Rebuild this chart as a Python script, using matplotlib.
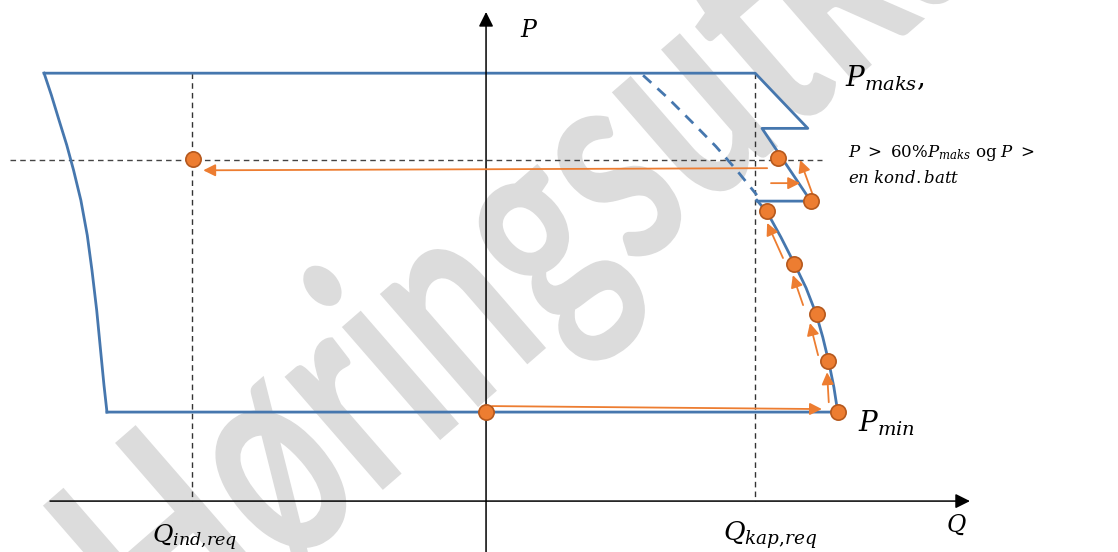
import matplotlib
matplotlib.use("Agg")
import matplotlib.pyplot as plt
from matplotlib.patheffects import AbstractPathEffect
from matplotlib.transforms import Affine2D

plt.rcParams['mathtext.fontset'] = 'dejavuserif'
plt.rcParams['font.family'] = ['DejaVu Serif']

# P-Q diagram, units: P in % of P_maks, Q in same scale
# outer boundary (left side curve, top, right steps, right curve, bottom)
left_q = [-103.3, -101.6, -99.8, -98.0, -96.4, -94.7, -93.2, -92.1, -91.0, -90.1, -89.3, -88.6]
left_p = [100, 94.9, 89.0, 83.2, 77.3, 70.3, 62.1, 53.9, 44.6, 35.3, 27.1, 20.8]

step_q = [-103.3, 62.9, 75.2, 64.5, 75.9, 63.3]
step_p = [100, 100, 87.1, 87.1, 70.1, 70.1]

right_q = [63.3, 65.7, 68.9, 72.0, 74.8, 77.1, 78.7, 80.1, 81.3, 82.2, -88.6]
right_p = [70.3, 67.5, 61.7, 55.6, 49.8, 43.9, 38.3, 32.5, 26.6, 20.8, 20.8]

# dashed continuation of the capability arc
arc_q = [36.7, 42.5, 48.4, 53.7, 58.6, 63.3]
arc_p = [99.5, 94.2, 88.3, 82.9, 77.3, 71.5]

q_ind_req = -68.7
q_kap_req = 62.9
p_maks = 100
p_level = 79.7
p_level_span = (-111.2, 78.5)

# operating points
pts_q = [-68.5, 0, 68.2, 75.9, 65.7, 72.0, 77.3, 79.9, 82.2]
pts_p = [79.9, 20.8, 80.1, 70.1, 67.8, 55.4, 43.7, 32.7, 20.8]

# orange arrows: (tail_q, tail_p, head_q, head_p)
arrows = [
    (65.7, 77.8, -66.1, 77.3),
    (1.4, 22.2, 78.5, 21.5),
    (80.1, 23.1, 79.7, 30.1),
    (77.6, 34.1, 75.7, 41.6),
    (74.1, 45.8, 71.7, 52.8),
    (69.4, 56.8, 65.7, 65.0),
    (66.6, 74.3, 73.4, 74.3),
    (76.2, 72.0, 73.4, 79.7),
]

blue = '#4677ae'
orange = '#ed7d31'


class Stretch(AbstractPathEffect):
    # stretch glyphs vertically (in the text's own frame), like a word-art watermark
    def __init__(self, sy):
        super().__init__()
        self.sy = sy

    def draw_path(self, renderer, gc, tpath, affine, rgbFace=None):
        renderer.draw_path(gc, tpath, Affine2D().scale(1, self.sy) + affine, rgbFace)


fig = plt.figure(figsize=(11.18, 5.52), dpi=100)
ax = fig.add_axes([0, 0, 1, 1])
ax.set_xlim(-113.6, 147.7)
ax.set_ylim(-11.9, 117.1)
ax.axis('off')

# watermark (behind everything)
ax.text(0.579, 0.529, 'Høringsutkast', transform=ax.transAxes,
        family='Lato', fontweight='bold', fontsize=145,
        color='#dcdcdc', rotation=41, rotation_mode='anchor',
        ha='center', va='baseline', zorder=0,
        path_effects=[Stretch(1.45)])

# axes with arrows
ax.annotate('', xy=(113.1, 0), xytext=(-101.9, 0),
            arrowprops=dict(arrowstyle='-|>', color='black', lw=1.1,
                            mutation_scale=22, shrinkA=0, shrinkB=0))
ax.annotate('', xy=(0, 114.3), xytext=(0, -13),
            arrowprops=dict(arrowstyle='-|>', color='black', lw=1.1,
                            mutation_scale=22, shrinkA=0, shrinkB=0))

# dashed helper lines
ax.plot([q_ind_req, q_ind_req], [p_maks, 0], ls=(0, (4, 3)), color='#333333', lw=1)
ax.plot([q_kap_req, q_kap_req], [p_maks, 0], ls=(0, (4, 3)), color='#333333', lw=1)
ax.plot(p_level_span, [p_level, p_level], ls=(0, (4, 3)), color='#444444', lw=1)

# capability curve
ax.plot(left_q, left_p, color=blue, lw=2)
ax.plot(step_q, step_p, color=blue, lw=2)
ax.plot(right_q, right_p, color=blue, lw=2)
ax.plot(arc_q, arc_p, color=blue, lw=2, ls=(0, (4, 3)))

for tq, tp, hq, hp in arrows:
    ax.annotate('', xy=(hq, hp), xytext=(tq, tp),
                arrowprops=dict(arrowstyle='-|>', color=orange, lw=1.3,
                                mutation_scale=18, shrinkA=0, shrinkB=0))

ax.plot(pts_q, pts_p, 'o', ms=11, mfc=orange, mec='#b5581d', mew=1.2, zorder=5)

# labels
ax.text(7.9, 110.0, '$P$', fontsize=17, ha='left', va='center')
ax.text(109.8, -5.6, '$Q$', fontsize=17, ha='center', va='center')
ax.text(-68.0, -8.6, '$Q_{ind{,}req}$', fontsize=18, ha='center', va='center')
ax.text(66.4, -7.9, '$Q_{kap{,}req}$', fontsize=19, ha='center', va='center')
ax.text(83.9, 98.8, '$P_{maks}{,}$', fontsize=20, ha='left', va='center')
ax.text(86.9, 18.2, '$P_{min}$', fontsize=20, ha='left', va='center')
ax.text(84.6, 81.3, r'$P\ >\ 60\%P_{maks}$ og $P\ >$', fontsize=12, ha='left', va='center')
ax.text(84.6, 75.5, r'$en\ kond.batt$', fontsize=12, ha='left', va='center')

fig.savefig('out.png', dpi=100)
